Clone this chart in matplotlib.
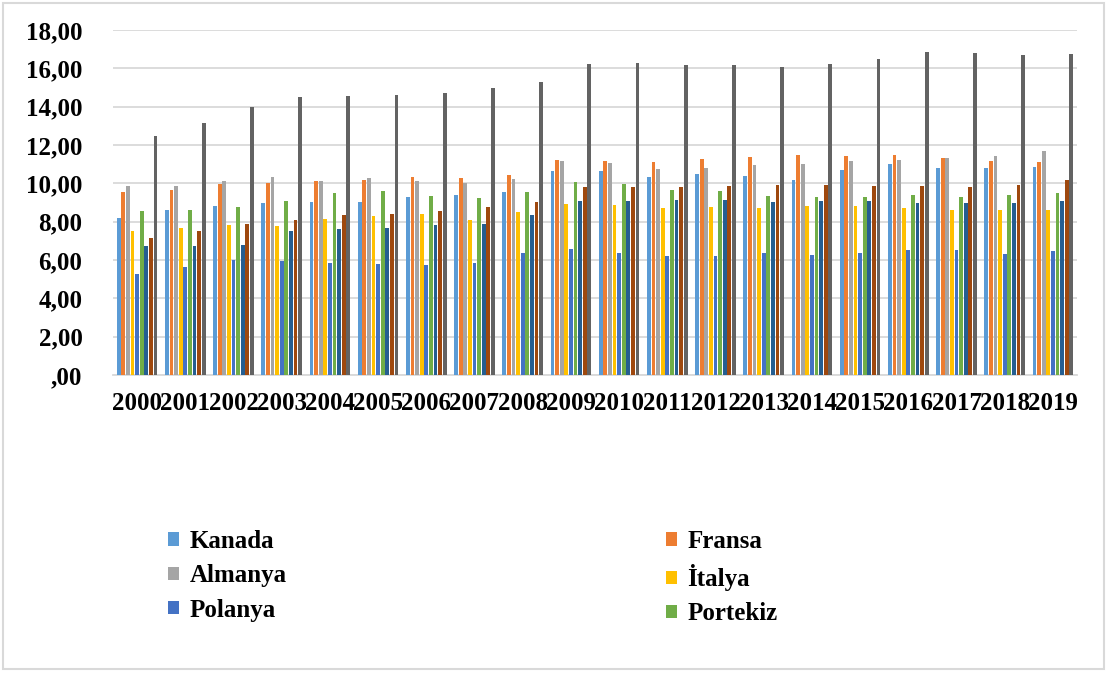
#!/usr/bin/env python
#
# Grouped bar chart, 2000-2019, nine series.

import numpy as np
import matplotlib.pyplot as plt
from matplotlib.patches import Rectangle
from matplotlib.ticker import FuncFormatter


########
# Data #
########

years = [str(y) for y in range(2000, 2020)]

kanada = [8.21, 8.59, 8.82, 8.96, 9.04, 9.01, 9.29, 9.39, 9.57, 10.66,
          10.64, 10.35, 10.47, 10.37, 10.19, 10.71, 11.01, 10.81, 10.80, 10.83]
fransa = [9.55, 9.67, 9.98, 10.03, 10.12, 10.17, 10.33, 10.26, 10.45, 11.23,
          11.18, 11.13, 11.25, 11.37, 11.50, 11.44, 11.46, 11.32, 11.18, 11.09]
almanya = [9.84, 9.86, 10.12, 10.35, 10.10, 10.26, 10.12, 10.00, 10.21, 11.18,
           11.04, 10.73, 10.80, 10.96, 10.99, 11.16, 11.22, 11.32, 11.44, 11.69]
italya = [7.51, 7.69, 7.83, 7.79, 8.12, 8.30, 8.38, 8.09, 8.50, 8.92,
          8.87, 8.71, 8.75, 8.71, 8.84, 8.83, 8.69, 8.63, 8.63, 8.63]
polanya = [5.25, 5.63, 6.02, 5.93, 5.83, 5.77, 5.76, 5.84, 6.35, 6.56,
           6.37, 6.21, 6.19, 6.37, 6.26, 6.37, 6.51, 6.54, 6.31, 6.45]
portekiz = [8.56, 8.59, 8.75, 9.08, 9.50, 9.62, 9.32, 9.22, 9.53, 10.09,
            9.98, 9.67, 9.60, 9.36, 9.31, 9.30, 9.37, 9.28, 9.40, 9.52]
series7 = [6.75, 6.71, 6.77, 7.53, 7.62, 7.69, 7.81, 7.88, 8.35, 9.08,
           9.08, 9.13, 9.11, 9.03, 9.07, 9.09, 8.95, 8.95, 8.98, 9.10]
series8 = [7.15, 7.53, 7.90, 8.09, 8.35, 8.38, 8.56, 8.75, 9.03, 9.83,
           9.81, 9.79, 9.86, 9.93, 9.92, 9.87, 9.86, 9.79, 9.91, 10.15]
series9 = [12.47, 13.17, 13.97, 14.49, 14.58, 14.60, 14.70, 14.95, 15.28, 16.24,
           16.27, 16.20, 16.17, 16.06, 16.24, 16.50, 16.83, 16.80, 16.68, 16.76]

labels = ['Kanada', 'Fransa', 'Almanya', 'İtalya', 'Polanya', 'Portekiz',
          None, None, None]
colors = ['#5B9BD5', '#ED7D31', '#A5A5A5', '#FFC000', '#4472C4', '#70AD47',
          '#255E91', '#9E480E', '#636363']
series = [kanada, fransa, almanya, italya, polanya, portekiz,
          series7, series8, series9]


###########
# Helpers #
###########

def comma_fmt(v, pos):
    s = '{:.2f}'.format(v).replace('.', ',')
    return s[1:] if s.startswith('0,') else s


def plot_bars(output):
    plt.rcParams['font.family'] = ['Liberation Serif', 'DejaVu Serif']
    plt.rcParams['font.weight'] = 'bold'

    fig = plt.figure(figsize=(11.07, 6.73), dpi=100)
    ax = fig.add_axes([113 / 1107, 1 - 375 / 673, 964 / 1107, 345 / 673])

    x = np.arange(len(years))
    group = 0.86
    pitch = group / len(series)
    width = pitch * 0.83

    handles = []
    for i, (vals, col, lab) in enumerate(zip(series, colors, labels)):
        offs = -group / 2 + pitch * (i + 0.5)
        b = ax.bar(x + offs, vals, width=width, color=col, zorder=3)
        if lab:
            handles.append((b, lab))

    ax.set_xlim(-0.5, len(years) - 0.5)
    ax.set_ylim(0, 18)
    ax.set_yticks(np.arange(0, 19, 2))
    ax.yaxis.set_major_formatter(FuncFormatter(comma_fmt))
    ax.set_xticks(x)
    ax.set_xticklabels(years)

    ax.grid(axis='y', color='#D9D9D9', linewidth=1.3, zorder=0)
    for side in ('top', 'right', 'left'):
        ax.spines[side].set_visible(False)
    ax.spines['bottom'].set_color('#D9D9D9')
    ax.spines['bottom'].set_linewidth(1.3)
    ax.tick_params(axis='y', length=0, pad=22, labelsize=18)
    ax.tick_params(axis='x', length=0, pad=12, labelsize=18)
    for t in ax.get_xticklabels() + ax.get_yticklabels():
        t.set_fontweight('bold')

    # legend filled row by row: left column gets the even entries
    order = handles[0::2] + handles[1::2]
    fig.legend([h for h, _ in order], [l for _, l in order],
               ncol=2, loc='upper left',
               bbox_to_anchor=(168 / 1107, 1 - 530 / 673), frameon=False,
               prop={'size': 18, 'weight': 'bold'},
               handlelength=0.45, handleheight=0.45, handletextpad=0.42,
               labelspacing=0.45, columnspacing=15.15,
               borderpad=0, borderaxespad=0)

    fig.patches.append(Rectangle((3 / 1107, 4 / 673), 1101 / 1107, 666 / 673,
                                 transform=fig.transFigure, fill=False,
                                 edgecolor='#D9D9D9', linewidth=1.5))

    fig.savefig(output, dpi=100)


if __name__ == '__main__':
    plot_bars('out.png')
